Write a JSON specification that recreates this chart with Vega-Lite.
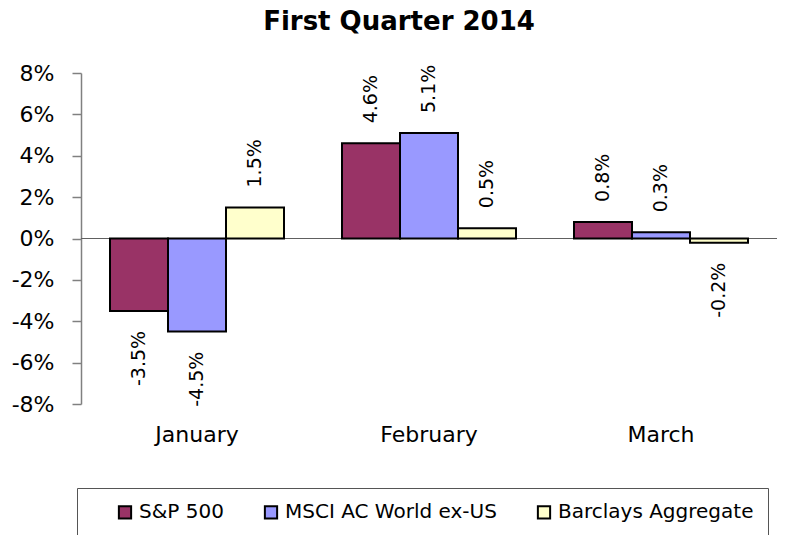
{
  "$schema": "https://vega.github.io/schema/vega-lite/v6.json",
  "width": 696,
  "height": 331,
  "autosize": {"type": "none"},
  "padding": {"left": 81, "top": 73, "right": 13, "bottom": 131},
  "background": "white",
  "config": {"view": {"stroke": null}, "font": "DejaVu Sans"},
  "title": {
    "text": "First Quarter 2014",
    "font": "DejaVu Sans",
    "fontSize": 26,
    "fontWeight": "bold",
    "color": "black",
    "offset": 27,
    "dx": -30
  },
  "data": {
    "values": [
      {"month": "January", "series": "S&P 500", "v": -3.5},
      {"month": "January", "series": "MSCI AC World ex-US", "v": -4.5},
      {"month": "January", "series": "Barclays Aggregate", "v": 1.5},
      {"month": "February", "series": "S&P 500", "v": 4.6},
      {"month": "February", "series": "MSCI AC World ex-US", "v": 5.1},
      {"month": "February", "series": "Barclays Aggregate", "v": 0.5},
      {"month": "March", "series": "S&P 500", "v": 0.8},
      {"month": "March", "series": "MSCI AC World ex-US", "v": 0.3},
      {"month": "March", "series": "Barclays Aggregate", "v": -0.2}
    ]
  },
  "transform": [{"calculate": "datum.v + '%'", "as": "lbl"}],
  "encoding": {
    "x": {
      "field": "month",
      "type": "nominal",
      "sort": ["January", "February", "March"],
      "scale": {"paddingInner": 0.25, "paddingOuter": 0.125},
      "axis": {
        "title": null,
        "domain": false,
        "ticks": false,
        "labelAngle": 0,
        "labelFontSize": 22,
        "labelColor": "black",
        "labelPadding": 20
      }
    },
    "xOffset": {
      "field": "series",
      "type": "nominal",
      "sort": ["S&P 500", "MSCI AC World ex-US", "Barclays Aggregate"],
      "scale": {"paddingInner": 0, "paddingOuter": 0}
    },
    "y": {
      "field": "v",
      "type": "quantitative",
      "scale": {"domain": [-8, 8], "nice": false},
      "axis": {
        "title": null,
        "values": [-8, -6, -4, -2, 0, 2, 4, 6, 8],
        "labelExpr": "datum.value + '%'",
        "grid": false,
        "labelFontSize": 22,
        "labelColor": "black",
        "labelPadding": 18,
        "tickSize": 9,
        "tickColor": "#808080",
        "domainColor": "#808080",
        "tickWidth": 1.5,
        "domainWidth": 1.5
      }
    }
  },
  "layer": [
    {
      "mark": {"type": "rule", "color": "#606060", "strokeWidth": 1},
      "encoding": {"y": {"datum": 0}, "x": null, "xOffset": null}
    },
    {
      "mark": {"type": "bar", "stroke": "black", "strokeWidth": 2},
      "encoding": {
        "color": {
          "field": "series",
          "type": "nominal",
          "sort": ["S&P 500", "MSCI AC World ex-US", "Barclays Aggregate"],
          "scale": {
            "domain": ["S&P 500", "MSCI AC World ex-US", "Barclays Aggregate"],
            "range": ["#993366", "#9999FF", "#FFFFCC"]
          },
          "legend": {
            "orient": "none",
            "legendX": -4,
            "legendY": 415,
            "direction": "horizontal",
            "title": " ",
            "titleOrient": "left",
            "titlePadding": 24,
            "titleFontSize": 10,
            "padding": 14,
            "strokeColor": "#555555",
            "symbolType": "square",
            "symbolSize": 150,
            "symbolStrokeColor": "black",
            "symbolStrokeWidth": 2,
            "labelFontSize": 20,
            "labelLimit": 400,
            "labelColor": "black",
            "labelOffset": 4,
            "columnPadding": 36
          }
        }
      }
    },
    {
      "transform": [{"filter": "datum.v >= 0"}],
      "mark": {"type": "text", "angle": 270, "align": "left", "baseline": "middle", "dx": 20, "fontSize": 19, "color": "black"},
      "encoding": {"text": {"field": "lbl"}}
    },
    {
      "transform": [{"filter": "datum.v < 0"}],
      "mark": {"type": "text", "angle": 270, "align": "right", "baseline": "middle", "dx": -20, "fontSize": 19, "color": "black"},
      "encoding": {"text": {"field": "lbl"}}
    }
  ]
}
